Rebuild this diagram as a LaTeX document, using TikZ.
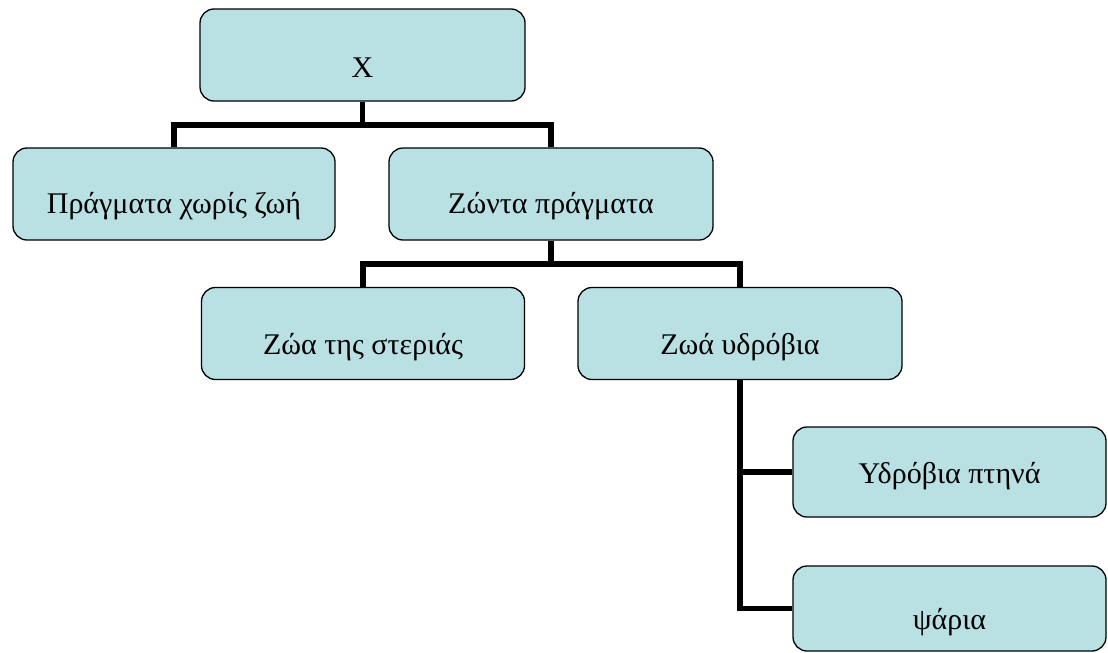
\documentclass[tikz,border=0pt]{standalone}
\usepackage{fontspec}
\setmainfont{Liberation Serif}
\definecolor{boxfill}{RGB}{185,224,227}
\begin{document}
\begin{tikzpicture}[x=1pt,y=1pt,
  box/.style={draw=black, line width=1.3pt, fill=boxfill, rounded corners=14pt,
    inner sep=0pt, minimum height=92pt, text height=42pt, text depth=4pt,
    font=\fontsize{30}{36}\selectfont},
  conn/.style={draw=black, line width=5.5pt, line join=miter}]
\useasboundingbox (0,0) rectangle (1108,-653);
% junction points of the tree branches
\coordinate (j1) at (362.5,-125);
\coordinate (j2) at (551,-264);
\node[box, minimum width=325pt, text height=48pt] (X) at (362.5,-55) {X};
\node[box, minimum width=322pt] (A) at (174,-194) {Πράγματα χωρίς ζωή};
\node[box, minimum width=324pt] (B) at (551,-194) {Ζώντα πράγματα};
\node[box, minimum width=323pt, text height=45pt] (C) at (363,-333.5) {Ζώα της στεριάς};
\node[box, minimum width=324pt, text height=45pt] (D) at (740,-333.5) {Ζωά υδρόβια};
\node[box, minimum width=313pt, minimum height=90pt, text height=26pt] (E) at (949.5,-472) {Υδρόβια πτηνά};
\node[box, minimum width=313pt, minimum height=85pt, text height=46pt] (F) at (949.5,-608.5) {ψάρια};
\draw[conn] (X.south) -- (j1);
\draw[conn] (A.north) |- (j1) -| (B.north);
\draw[conn] (B.south) -- (j2);
\draw[conn] (C.north) |- (j2) -| (D.north);
\draw[conn] (D.south) |- (F.west);
\draw[conn] (D.south |- E.west) -- (E.west);
\end{tikzpicture}
\end{document}
